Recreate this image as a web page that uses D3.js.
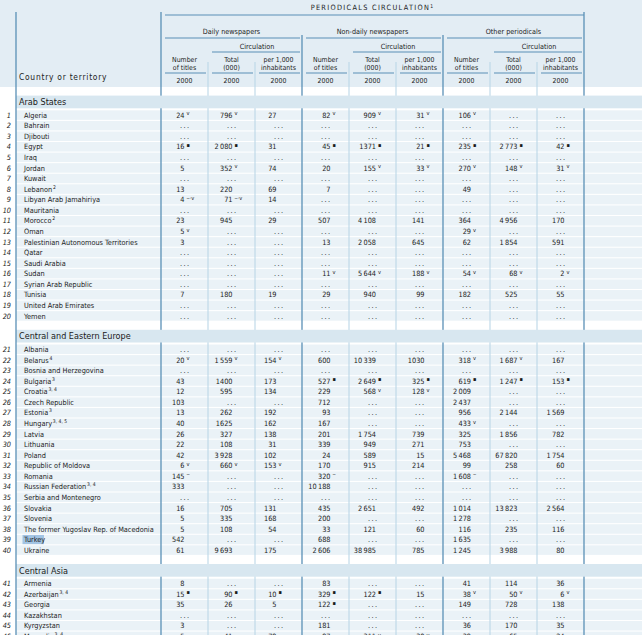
<!DOCTYPE html>
<html><head><meta charset="utf-8">
<script src="https://cdn.jsdelivr.net/npm/d3@7"></script>
<style>
html,body{margin:0;padding:0;background:#fff;}
svg{display:block;}
text{font-family:"Liberation Sans Narrow","Arial Narrow","DejaVu Sans Condensed",sans-serif;fill:#1b1b1b;}
</style></head><body><svg id="c" width="642" height="635"></svg>
<script>
const E = "...";
const title = "PERIODICALS CIRCULATION";
const titleNote = "1";
const groups = ["Daily newspapers", "Non-daily newspapers", "Other periodicals"];
const subHeads = [["Number","of titles"],["Total","(000)"],["per 1,000","inhabitants"]];
const circLabel = "Circulation";
const yearLabel = "2000";
const stubLabel = "Country or territory";
const regions = ["Arab States", "Central and Eastern Europe", "Central Asia"];
const regionOf = [0,0,0,0,0,0,0,0,0,0,0,0,0,0,0,0,0,0,0,0, 1,1,1,1,1,1,1,1,1,1,1,1,1,1,1,1,1,1,1,1, 2,2,2,2,2,2];
const countries = ["Algeria","Bahrain","Djibouti","Egypt","Iraq","Jordan","Kuwait","Lebanon","Libyan Arab Jamahiriya","Mauritania","Morocco","Oman","Palestinian Autonomous Territories","Qatar","Saudi Arabia","Sudan","Syrian Arab Republic","Tunisia","United Arab Emirates","Yemen",
 "Albania","Belarus","Bosnia and Herzegovina","Bulgaria","Croatia","Czech Republic","Estonia","Hungary","Latvia","Lithuania","Poland","Republic of Moldova","Romania","Russian Federation","Serbia and Montenegro","Slovakia","Slovenia","The former Yugoslav Rep. of Macedonia","Turkey","Ukraine",
 "Armenia","Azerbaijan","Georgia","Kazakhstan","Kyrgyzstan","Mongolia"];
const footnotes = ["","","","","","","","2","","","2","","","","","","","","","",
 "","4","","3","3, 4","","3","3, 4, 5","","","","","","3, 4","","","","","","",
 "","3, 4","","","","3, 4"];
const highlighted = ["Turkey"];

const dailyTitles = ["24^v",E,E,"16^▪",E,"5",E,"13","4^‒·v",E,"23","5^v","3",E,E,E,E,"7",E,E,
 E,"20^v",E,"43","12","103","13","40","26","22","42","6^v","145^‒","333",E,"16","5","5","542","61",
 "8","15^▪","35",E,"3","5"];
const dailyTotal = ["796^v",E,E,"2 080^▪",E,"352^v",E,"220","71^‒·v",E,"945",E,E,E,E,E,E,"180",E,E,
 E,"1 559^v",E,"1400","595",E,"262","1625","327","108","3 928","660^v",E,E,E,"705","335","108",E,"9 693",
 E,"90^▪","26",E,E,"41"];
const dailyPer1000 = ["27",E,E,"31",E,"74",E,"69","14",E,"29",E,E,E,E,E,E,"19",E,E,
 E,"154^v",E,"173","134",E,"192","162","138","31","102","153^v",E,E,E,"131","168","54",E,"175",
 E,"10^▪","5",E,E,"79"];
const nonDailyTitles = ["82^v",E,E,"45^▪",E,"20",E,"7",E,E,"507",E,"13",E,E,"11^v",E,"29",E,E,
 E,"600",E,"527^▪","229","712","93","167","201","339","24","170","320^‒","10 188",E,"435","200","33","688","2 606",
 "83","329^▪","122^▪",E,"181","97"];
const nonDailyTotal = ["909^v",E,E,"1371^▪",E,"155^v",E,E,E,E,"4 108",E,"2 058",E,E,"5 644^v",E,"940",E,E,
 E,"10 339",E,"2 649^▪","568^v",E,E,E,"1 754","949","589","915",E,E,E,"2 651",E,"121",E,"38 985",
 E,"122^▪",E,E,E,"311^v"];
const nonDailyPer1000 = ["31^v",E,E,"21^▪",E,"33^v",E,E,E,E,"141",E,"645",E,E,"188^v",E,"99",E,E,
 E,"1030",E,"325^▪","128^v",E,E,E,"739","271","15","214",E,E,E,"492",E,"60",E,"785",
 E,"15",E,E,E,"30^v"];
const otherTitles = ["106^v",E,E,"235^▪",E,"270^v",E,"49",E,E,"364","29^v","62",E,E,"54^v",E,"182",E,E,
 E,"318^v",E,"619^▪","2 009","2 437","956","433^v","325","753","5 468","99","1 608^‒",E,E,"1 014","1 278","116","1 635","1 245",
 "41","38^v","149",E,"36","39"];
const otherTotal = [E,E,E,"2 773^▪",E,"148^v",E,E,E,E,"4 956",E,"1 854",E,E,"68^v",E,"525",E,E,
 E,"1 687^v",E,"1 247^▪",E,E,"2 144",E,"1 856",E,"67 820","258",E,E,E,"13 823",E,"235",E,"3 988",
 "114","50^v","728",E,"170","65"];
const otherPer1000 = [E,E,E,"42^▪",E,"31^v",E,E,E,E,"170",E,"591",E,E,"2^v",E,"55",E,E,
 E,"167",E,"153^▪",E,E,"1 569",E,"782",E,"1 754","60",E,E,E,"2 564",E,"116",E,"80",
 "36","6^v","138",E,"35","24"];

const series = [dailyTitles,dailyTotal,dailyPer1000,nonDailyTitles,nonDailyTotal,nonDailyPer1000,otherTitles,otherTotal,otherPer1000];

// ---- layout / style ----
const W = 642, H = 635;
const COL = {hdr:"#e3edf4", row:"#eaf2f7", band:"#d8e7f0", strong:"#5a90b6", light:"#bcd7e8", hl:"#a2c4e4", txt:"#202020"};
const FS = 7.3;
const svg = d3.select("#c");
const x = d3.scaleBand().domain(d3.range(series.length)).range([161, 584]);
const xg = d3.scaleBand().domain(groups).range([161, 584]);
const bw = x.bandwidth();
const numOffset = [0, 1, -2, 5, 3.5, 5, 4.5, 4, 4];
const thin = s => s.replace(/ /g, "\u2009");

// header background
svg.append("rect").attr("x",0).attr("y",0).attr("width",W).attr("height",87).attr("fill",COL.hdr);

// rows
const gap = 8.6, bandH = 12.7, pad = 1.5, step = 10.57;
let y0 = 87;
const bandsG = [];
const rowsG = svg.append("g");
const rowPos = {};
regions.forEach((r, ri) => {
  const idx = d3.range(countries.length).filter(i => regionOf[i] === ri);
  const bandY = y0 + gap;
  const top = bandY + bandH + pad;
  const y = d3.scaleBand().domain(idx).range([top, top + idx.length * step]).paddingInner(0.1).paddingOuter(0.05);
  bandsG.push({r, y: bandY});
  idx.forEach(i => { rowPos[i] = {y: y(i), h: y.bandwidth()}; });
  y0 = top + idx.length * step;
});

rowsG.selectAll("rect").data(d3.range(countries.length)).join("rect")
  .attr("x",16).attr("y",i=>rowPos[i].y).attr("width",W-16).attr("height",i=>rowPos[i].h).attr("fill",COL.row);

// vertical lines
const vlines = [];
[0,3,6].forEach(c=>{ vlines.push({x:x(c), y1: c===0?12:35, s:true}); });
vlines.push({x:584, y1:12, s:true});
[1,2,4,5,7,8].forEach(c=>vlines.push({x:x(c), y1:62, s:false}));
svg.append("g").selectAll("line").data(vlines).join("line")
  .attr("x1",d=>d.x).attr("x2",d=>d.x).attr("y1",d=>d.y1).attr("y2",H)
  .attr("stroke",d=>d.s?COL.strong:COL.light).attr("stroke-width",d=>d.s?1.3:1.1);

// section bands
const bg = svg.append("g");
bg.selectAll("rect").data(bandsG).join("rect")
  .attr("x",16).attr("y",d=>d.y).attr("width",W-16).attr("height",bandH).attr("fill",COL.band);
bg.selectAll("text").data(bandsG).join("text")
  .attr("x",19).attr("y",d=>d.y+bandH/2+3.3).attr("font-size",9).style("fill",COL.txt).text(d=>d.r);

// left border
svg.append("line").attr("x1",16).attr("x2",16).attr("y1",12).attr("y2",H).attr("stroke",COL.strong).attr("stroke-width",1.3);

// header texts
const hg = svg.append("g");
const tt = hg.append("text").attr("x",(161+584)/2).attr("y",10.2).attr("text-anchor","middle")
  .attr("font-family","Liberation Sans, Arial, sans-serif").attr("font-size",7.3).attr("letter-spacing",1.3);
tt.append("tspan").text(title);
tt.append("tspan").attr("font-size",5).attr("dy",-2.5).text(titleNote);
hg.append("line").attr("x1",165).attr("x2",584).attr("y1",15).attr("y2",15).attr("stroke",COL.strong).attr("stroke-width",1.2);

groups.forEach((g,gi)=>{
  const gx = xg(g), gw = xg.bandwidth();
  hg.append("text").attr("x",gx+gw/2).attr("y",34).attr("text-anchor","middle").attr("font-size",7.2).text(g);
  hg.append("line").attr("x1",gx+4).attr("x2",gx+gw-2).attr("y1",38).attr("y2",38).attr("stroke",COL.strong).attr("stroke-width",1.2);
  const c1 = gi*3+1;
  hg.append("text").attr("x",(x(c1)+x(c1+1)+bw)/2 + 2).attr("y",49).attr("text-anchor","middle").attr("font-size",7.2).text(circLabel);
  hg.append("line").attr("x1",x(c1)+4).attr("x2",gx+gw-2).attr("y1",52).attr("y2",52).attr("stroke",COL.strong).attr("stroke-width",1.2);
});
d3.range(series.length).forEach(c=>{
  const cx = x(c)+bw/2;
  const lab = subHeads[c%3];
  hg.append("text").attr("x",cx).attr("y",62).attr("text-anchor","middle").attr("font-size",6.9).text(lab[0]);
  hg.append("text").attr("x",cx).attr("y",69.5).attr("text-anchor","middle").attr("font-size",6.9).text(lab[1]);
  hg.append("line").attr("x1",x(c)+4).attr("x2",x(c)+bw-2).attr("y1",73).attr("y2",73).attr("stroke",COL.strong).attr("stroke-width",1.2);
  hg.append("text").attr("x",cx).attr("y",83).attr("text-anchor","middle").attr("font-size",6.9).text(yearLabel);
});
hg.append("text").attr("x",19).attr("y",80).attr("font-family","Liberation Sans, Arial, sans-serif")
  .attr("font-size",8.4).attr("letter-spacing",0.75).text(stubLabel);

// row contents
const tg = svg.append("g");
d3.range(countries.length).forEach(i=>{
  const cy = rowPos[i].y + rowPos[i].h/2;
  const base = cy + 2.7;
  tg.append("text").attr("x",11).attr("y",base).attr("text-anchor","end").attr("font-size",FS)
    .attr("font-style","italic").text(i+1);
  if (highlighted.includes(countries[i])) {
    tg.append("rect").attr("x",22.5).attr("y",cy-4.6).attr("width",21.5).attr("height",9.2).attr("fill",COL.hl);
  }
  const nt = tg.append("text").attr("x",24).attr("y",base).attr("font-size",FS);
  nt.append("tspan").text(countries[i]);
  if (footnotes[i]) nt.append("tspan").attr("font-size",5).attr("dx",0.8).attr("dy",-3).text(footnotes[i]);
  series.forEach((s,c)=>{
    const v = s[i];
    const cx = x(c)+bw/2;
    if (v === E) {
      tg.append("text").attr("x",cx+0.7).attr("y",base).attr("text-anchor","middle").attr("font-size",FS)
        .attr("letter-spacing",1.4).text("...");
    } else {
      const [num, mark] = v.split("^");
      const rx = cx + numOffset[c];
      tg.append("text").attr("x",rx).attr("y",base).attr("text-anchor","end").attr("font-size",FS).text(thin(num));
      if (mark) tg.append("text").attr("x",rx+2).attr("y",base-2.4).attr("font-size",5.6).text(mark);
    }
  });
});
</script></body></html>
